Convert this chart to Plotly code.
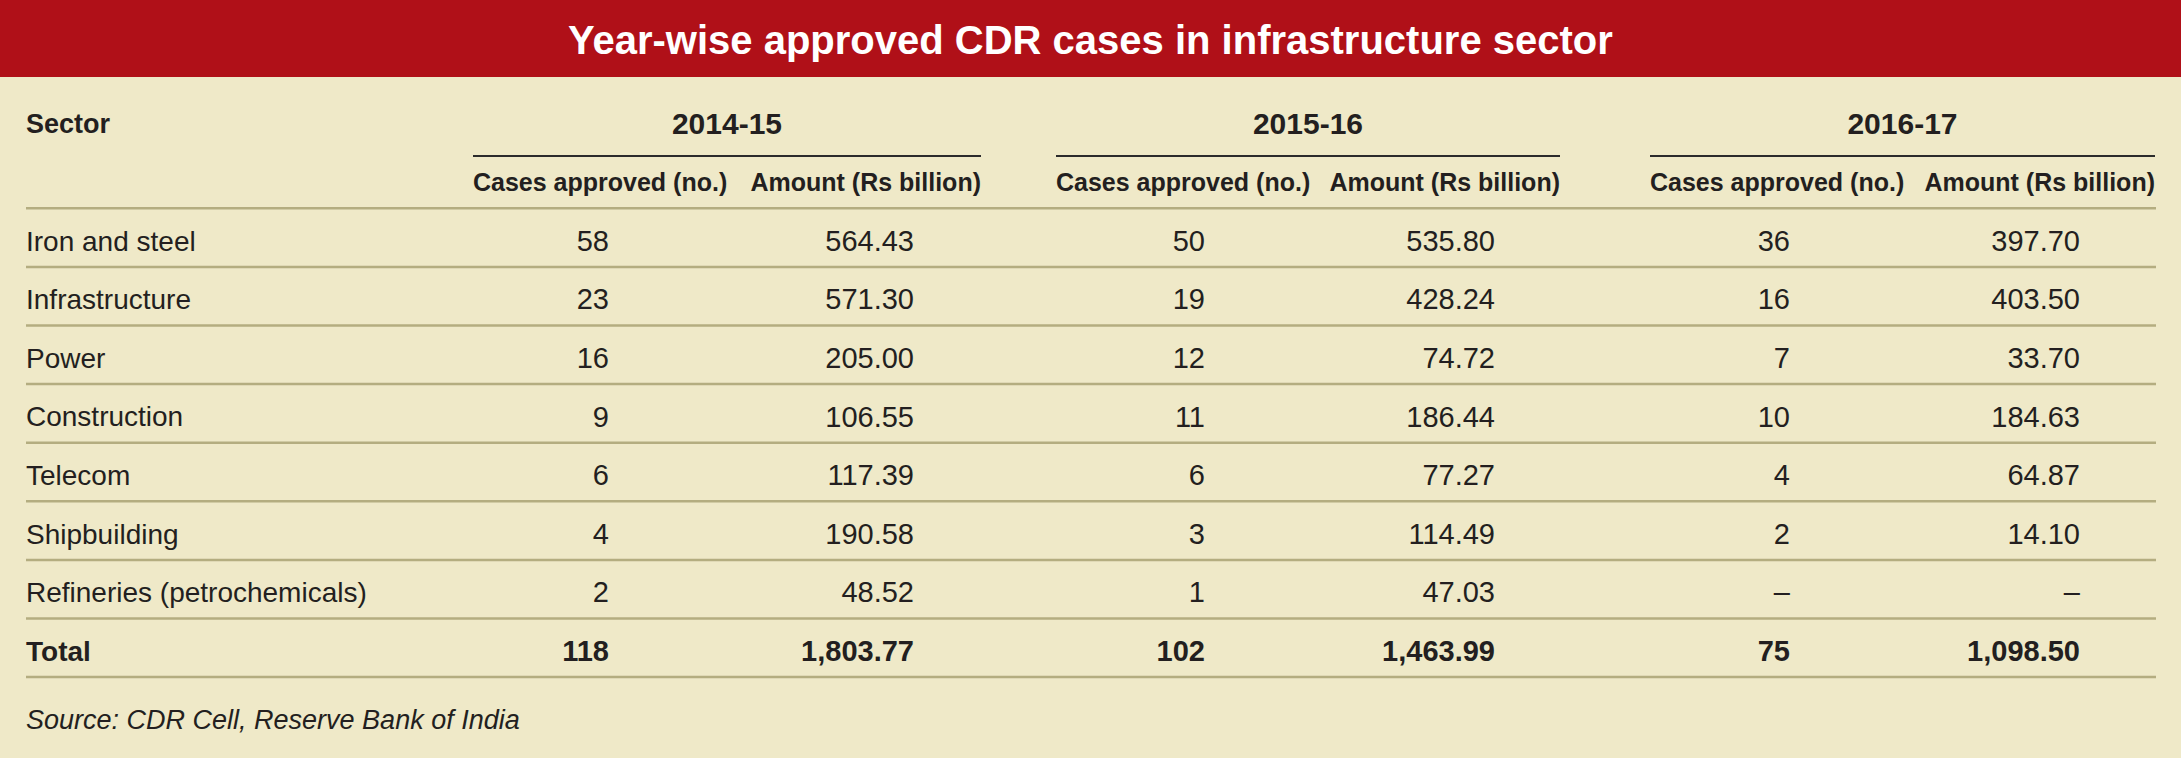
import plotly.graph_objects as go

# ---------------- data ----------------
title_text = "Year-wise approved CDR cases in infrastructure sector"
source_text = "Source: CDR Cell, Reserve Bank of India"
first_col_label = "Sector"
sub_labels = ["Cases approved (no.)", "Amount (Rs billion)"]
years = ["2014-15", "2015-16", "2016-17"]
sectors = ["Iron and steel", "Infrastructure", "Power", "Construction",
           "Telecom", "Shipbuilding", "Refineries (petrochemicals)"]
cases_2014_15 = [58, 23, 16, 9, 6, 4, 2]
amount_2014_15 = [564.43, 571.30, 205.00, 106.55, 117.39, 190.58, 48.52]
cases_2015_16 = [50, 19, 12, 11, 6, 3, 1]
amount_2015_16 = [535.80, 428.24, 74.72, 186.44, 77.27, 114.49, 47.03]
cases_2016_17 = [36, 16, 7, 10, 4, 2, None]
amount_2016_17 = [397.70, 403.50, 33.70, 184.63, 64.87, 14.10, None]
total_label = "Total"
total_cases = [118, 102, 75]
total_amount = [1803.77, 1463.99, 1098.50]

# ---------------- layout / style ----------------
W, H = 2181, 758
BG = "#EFE9C8"
RED = "#B01018"
TXT = "#231F20"
RULE = "#B4AD80"
DARK_RULE = "#2B2B2B"
BODY_FONT = "Liberation Sans, Arial, sans-serif"
TITLE_FONT = "Liberation Sans, Arial, sans-serif"

BAND_H = 77
SECTOR_X = 26
RULE_X1 = 2156
YEAR_BLOCKS = [(473, 981), (1056, 1560), (1650, 2155)]
CASES_RIGHT = [609, 1205, 1790]
AMOUNT_RIGHT = [914, 1495, 2080]
YEAR_Y = 126
YEAR_LINE_Y = 156
SUB_Y = 185
RULE0_Y = 208.3
ROW_H = 58.6
ROW_TEXT_OFF = 35.2
SOURCE_Y = 722

cases_cols = [cases_2014_15, cases_2015_16, cases_2016_17]
amount_cols = [amount_2014_15, amount_2015_16, amount_2016_17]

n_rows = len(sectors)
row_y = [RULE0_Y + i * ROW_H + ROW_TEXT_OFF for i in range(n_rows)]
total_y = RULE0_Y + n_rows * ROW_H + ROW_TEXT_OFF


def fmt_cases(v):
    return "\u2013" if v is None else f"{v:,d}"


def fmt_amount(v):
    return "\u2013" if v is None else f"{v:,.2f}"


fig = go.Figure()


def add_text(xs, ys, texts, pos, size, bold=False, italic=False, color=TXT, family=BODY_FONT):
    fig.add_trace(go.Scatter(
        x=xs, y=ys, text=texts, mode="text", textposition=pos,
        textfont=dict(family=family, size=size, color=color,
                      weight="bold" if bold else "normal",
                      style="italic" if italic else "normal"),
        hoverinfo="skip", showlegend=False, cliponaxis=False))


# header row
add_text([SECTOR_X], [YEAR_Y], [first_col_label], "middle right", 27, bold=True)
add_text([(a + b) / 2 for a, b in YEAR_BLOCKS], [YEAR_Y] * 3, years, "middle center", 30, bold=True)
add_text([a for a, b in YEAR_BLOCKS], [SUB_Y] * 3, [sub_labels[0]] * 3, "middle right", 25, bold=True)
add_text([b for a, b in YEAR_BLOCKS], [SUB_Y] * 3, [sub_labels[1]] * 3, "middle left", 25, bold=True)

# body
add_text([SECTOR_X] * n_rows, row_y, sectors, "middle right", 28)
for j in range(len(years)):
    add_text([CASES_RIGHT[j]] * n_rows, row_y, [fmt_cases(v) for v in cases_cols[j]], "middle left", 29)
    add_text([AMOUNT_RIGHT[j]] * n_rows, row_y, [fmt_amount(v) for v in amount_cols[j]], "middle left", 29)

# total row
add_text([SECTOR_X], [total_y], [total_label], "middle right", 28, bold=True)
add_text(CASES_RIGHT, [total_y] * 3, [fmt_cases(v) for v in total_cases], "middle left", 29, bold=True)
add_text(AMOUNT_RIGHT, [total_y] * 3, [fmt_amount(v) for v in total_amount], "middle left", 29, bold=True)

# source
add_text([SECTOR_X], [SOURCE_Y], [source_text], "middle right", 27, italic=True)

shapes = [dict(type="rect", xref="x", yref="y", x0=0, x1=W, y0=0, y1=BAND_H,
               fillcolor=RED, line=dict(width=0), layer="below")]
for a, b in YEAR_BLOCKS:
    shapes.append(dict(type="line", xref="x", yref="y", x0=a, x1=b,
                       y0=YEAR_LINE_Y, y1=YEAR_LINE_Y, line=dict(color=DARK_RULE, width=2)))
for k in range(n_rows + 2):
    y = RULE0_Y + k * ROW_H
    shapes.append(dict(type="line", xref="x", yref="y", x0=SECTOR_X, x1=RULE_X1,
                       y0=y, y1=y, line=dict(color=RULE, width=2.5)))

fig.update_layout(
    width=W, height=H,
    margin=dict(l=0, r=0, t=0, b=0),
    paper_bgcolor=BG, plot_bgcolor=BG,
    xaxis=dict(range=[0, W], visible=False, fixedrange=True),
    yaxis=dict(range=[H, 0], visible=False, fixedrange=True),
    shapes=shapes,
    annotations=[dict(x=W / 2, y=BAND_H / 2 + 1, xref="x", yref="y", text=f"<b>{title_text}</b>",
                      showarrow=False, xanchor="center", yanchor="middle",
                      font=dict(family=TITLE_FONT, size=40, color="white"))],
    showlegend=False,
)

fig.write_html("out.html", config={"displayModeBar": False},
               post_script="document.body.style.margin='0px';document.body.style.background='" + BG + "';")
